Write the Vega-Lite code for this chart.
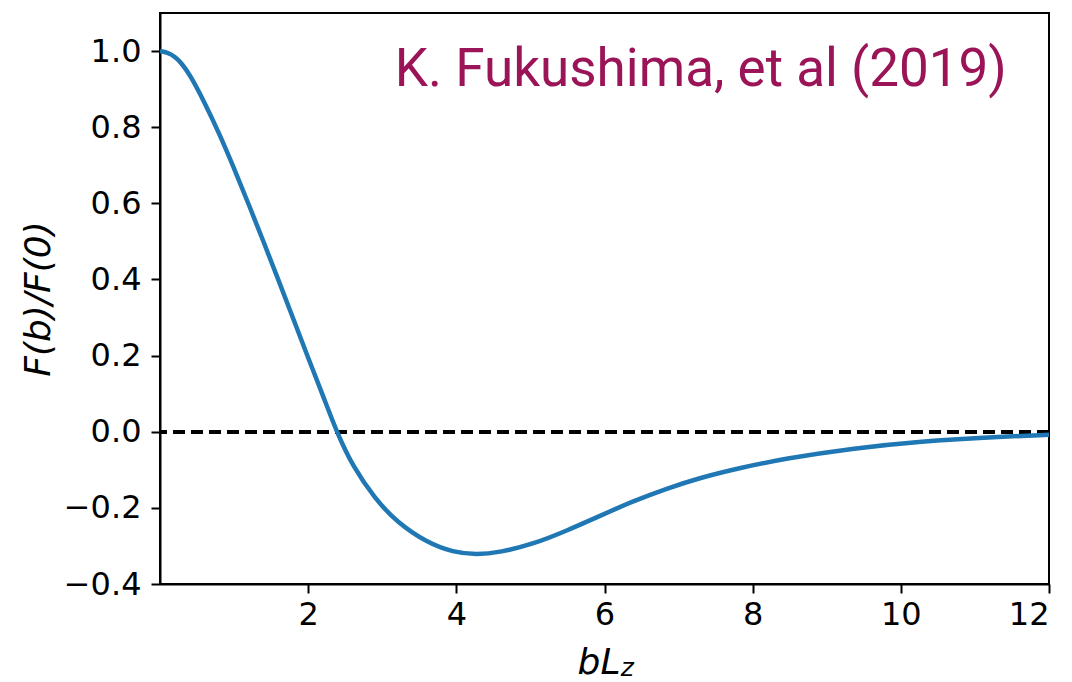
{
  "$schema": "https://vega.github.io/schema/vega-lite/v6.json",
  "width": 889,
  "height": 571,
  "autosize": {"type": "none"},
  "padding": {"left": 160, "top": 13, "right": 23, "bottom": 98},
  "background": "white",
  "config": {
    "view": {"stroke": "black", "strokeWidth": 2},
    "axis": {
      "grid": false,
      "domainColor": "black",
      "domainWidth": 2,
      "tickColor": "black",
      "tickWidth": 2,
      "tickSize": 9,
      "labelColor": "black",
      "labelFont": "DejaVu Sans",
      "labelFontSize": 32,
      "labelPadding": 10,
      "titleColor": "black",
      "titleFont": "DejaVu Sans",
      "titleFontStyle": "italic",
      "titleFontWeight": "normal",
      "titleFontSize": 36
    }
  },
  "datasets": {
    "curve": [
      {"b": 0.0, "f": 1.0},
      {"b": 0.1, "f": 0.996},
      {"b": 0.2, "f": 0.986},
      {"b": 0.3, "f": 0.966},
      {"b": 0.4, "f": 0.939},
      {"b": 0.6, "f": 0.866},
      {"b": 0.8, "f": 0.783},
      {"b": 1.0, "f": 0.692},
      {"b": 1.2, "f": 0.596},
      {"b": 1.4, "f": 0.498},
      {"b": 1.6, "f": 0.398},
      {"b": 1.8, "f": 0.296},
      {"b": 2.0, "f": 0.194},
      {"b": 2.2, "f": 0.095},
      {"b": 2.4, "f": -0.008},
      {"b": 2.6, "f": -0.09},
      {"b": 2.9, "f": -0.176},
      {"b": 3.2, "f": -0.238},
      {"b": 3.6, "f": -0.291},
      {"b": 3.96, "f": -0.317},
      {"b": 4.27, "f": -0.323},
      {"b": 4.59, "f": -0.317},
      {"b": 5.04, "f": -0.295},
      {"b": 5.49, "f": -0.26},
      {"b": 5.94, "f": -0.221},
      {"b": 6.39, "f": -0.182},
      {"b": 6.84, "f": -0.149},
      {"b": 7.29, "f": -0.121},
      {"b": 7.8, "f": -0.096},
      {"b": 8.45, "f": -0.07},
      {"b": 9.37, "f": -0.043},
      {"b": 10.28, "f": -0.025},
      {"b": 11.2, "f": -0.014},
      {"b": 12.0, "f": -0.008}
    ],
    "notes": [
      {"label": "K. Fukushima, et al (2019)", "nx": 11.43, "ny": 0.9075},
      {"label": "z", "nx": 6.22, "ny": -0.4}
    ]
  },
  "layer": [
    {
      "data": {"name": "curve"},
      "mark": {"type": "rule", "color": "black", "strokeWidth": 2.8, "strokeDash": [12, 6]},
      "encoding": {"y": {"datum": 0, "type": "quantitative"}}
    },
    {
      "data": {"name": "curve"},
      "mark": {"type": "line", "color": "#1f77b4", "strokeWidth": 4.5, "interpolate": "basis", "clip": true},
      "encoding": {
        "x": {
          "field": "b",
          "type": "quantitative",
          "scale": {"domain": [0, 12], "nice": false, "zero": false},
          "axis": {
            "values": [2, 4, 6, 8, 10, 12],
            "format": "d",
            "labelPadding": 6,
            "title": "bL",
            "titleAlign": "right",
            "titleAnchor": null,
            "titleX": 460,
            "titleY": 89,
            "titleBaseline": "alphabetic"
          }
        },
        "y": {
          "field": "f",
          "type": "quantitative",
          "scale": {"domain": [-0.4, 1.1], "nice": false},
          "axis": {
            "values": [-0.4, -0.2, 0, 0.2, 0.4, 0.6, 0.8, 1.0],
            "labelExpr": "replace(format(datum.value, '.1f'), '-', '\u2212')",
            "title": "F(b)/F(0)",
            "titlePadding": 6
          }
        }
      }
    },
    {
      "data": {"name": "notes"},
      "transform": [{"filter": "datum.label != 'z'"}],
      "mark": {"type": "text", "align": "right", "baseline": "alphabetic", "font": "Roboto", "fontSize": 53, "color": "#9b1457"},
      "encoding": {
        "x": {"field": "nx", "type": "quantitative"},
        "y": {"field": "ny", "type": "quantitative"},
        "text": {"field": "label"}
      }
    },
    {
      "data": {"name": "notes"},
      "transform": [{"filter": "datum.label == 'z'"}],
      "mark": {"type": "text", "align": "left", "baseline": "alphabetic", "font": "DejaVu Sans", "fontStyle": "italic", "fontSize": 25, "color": "black", "dy": 92},
      "encoding": {
        "x": {"field": "nx", "type": "quantitative"},
        "y": {"field": "ny", "type": "quantitative"},
        "text": {"field": "label"}
      }
    }
  ]
}
